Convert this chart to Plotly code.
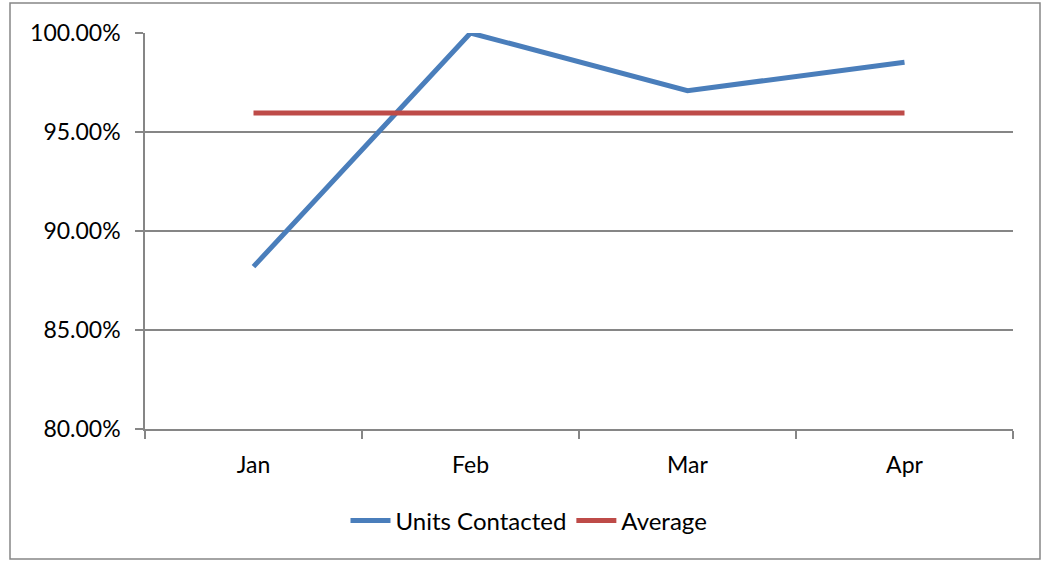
import plotly.graph_objects as go

months = ["Jan", "Feb", "Mar", "Apr"]
units_contacted = [0.8820, 1.0000, 0.9709, 0.9852]
average = [0.9596, 0.9596, 0.9596, 0.9596]
y_ticks = [0.80, 0.85, 0.90, 0.95, 1.00]

FONT = "Lato"
W, H = 1050, 563
L, R, T, B = 145, 37, 33, 134
pw = W - L - R
ph = H - T - B

fig = go.Figure()
fig.add_trace(go.Scatter(x=months, y=units_contacted, mode="lines", name="Units Contacted",
                         line=dict(color="#4A7EBB", width=5)))
fig.add_trace(go.Scatter(x=months, y=average, mode="lines", name="Average",
                         line=dict(color="#BE4B48", width=5)))

grid = "#868686"
fig.update_layout(
    width=W, height=H,
    margin=dict(l=L, r=R, t=T, b=B, pad=0, autoexpand=False),
    paper_bgcolor="white", plot_bgcolor="white",
    font=dict(family=FONT, size=23, color="black"),
    showlegend=True,
    legend=dict(orientation="h", x=(529 - L) / pw, xanchor="center", y=(429 - 521) / ph,
                yanchor="middle", font=dict(family=FONT, size=24, color="black"),
                itemwidth=40, tracegroupgap=0),
    xaxis=dict(type="category", range=[-0.5, 3.5], showgrid=False, showline=True, linecolor=grid,
               linewidth=1.5, ticks="outside", tickson="boundaries", ticklen=8, tickcolor=grid,
               tickwidth=1.5, ticklabelstandoff=15, fixedrange=True, automargin=False),
    yaxis=dict(range=[0.80, 1.00], tickvals=y_ticks, tickformat=".2%", showgrid=True,
               gridcolor=grid, gridwidth=1.5, showline=True, linecolor=grid, linewidth=1.5,
               ticks="outside", ticklen=8, tickcolor=grid, tickwidth=1.5, ticklabelstandoff=10,
               zeroline=False, fixedrange=True, automargin=False),
)

# outer chart border
fig.add_shape(type="rect", xref="paper", yref="paper",
              x0=(10 - L) / pw, x1=(1040 - L) / pw,
              y0=(T + ph - 559) / ph, y1=1 + (T - 3) / ph,
              line=dict(color="#868686", width=1.5), fillcolor="rgba(0,0,0,0)", layer="below")

fig.write_html("out.html", config={"displayModeBar": False},
               post_script="document.body.style.margin='0';document.body.style.overflow='hidden';")
